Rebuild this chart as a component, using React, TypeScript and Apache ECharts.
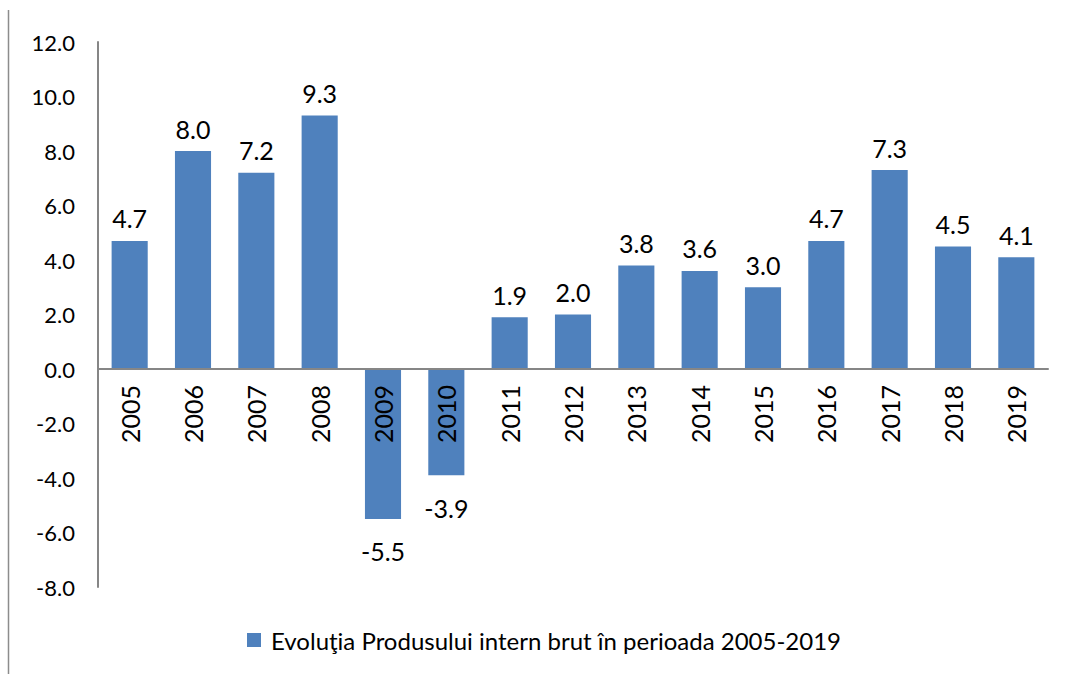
import React, { useEffect, useRef } from "react";
import * as echarts from "echarts";

const years = ["2005","2006","2007","2008","2009","2010","2011","2012","2013","2014","2015","2016","2017","2018","2019"];
const values = [4.7, 8.0, 7.2, 9.3, -5.5, -3.9, 1.9, 2.0, 3.8, 3.6, 3.0, 4.7, 7.3, 4.5, 4.1];
const seriesName = "Evoluţia Produsului intern brut în perioada 2005-2019";
const yMin = -8;
const yMax = 12;

const FONT = "Lato, 'Open Sans', sans-serif";

export default function App() {
  const ref = useRef<HTMLDivElement>(null);
  useEffect(() => {
    document.body.style.margin = "0";
    const gridTop = 42;
    const gridBottom = 87;
    const plotH = 674 - gridTop - gridBottom;
    const zeroOffset = -(plotH * (0 - yMin)) / (yMax - yMin);
    const chart = echarts.init(ref.current!, null, { renderer: "svg" });
    chart.setOption({
      animation: false,
      textStyle: { fontFamily: FONT },
      grid: { left: 98, right: 17, top: gridTop, bottom: gridBottom, containLabel: false },
      legend: {
        top: 623,
        left: 242,
        itemWidth: 14,
        itemHeight: 14,
        icon: "rect",
        itemGap: 10,
        textStyle: { fontSize: 24, color: "#000", fontFamily: FONT, padding: [0, 0, 0, 5] },
        data: [seriesName],
      },
      graphic: [
        {
          type: "line",
          shape: { x1: 8.5, y1: 10, x2: 8.5, y2: 674 },
          style: { stroke: "#8c8c8c", lineWidth: 1.5 },
        },
      ],
      xAxis: {
        type: "category",
        data: years,
        position: "bottom",
        offset: zeroOffset,
        z: 5,
        axisLine: { onZero: false, lineStyle: { color: "#868686", width: 2 } },
        axisTick: { show: false },
        axisLabel: { rotate: 90, fontSize: 25, color: "#000", margin: 16, fontFamily: FONT },
      },
      yAxis: {
        type: "value",
        min: yMin,
        max: yMax,
        interval: 2,
        splitLine: { show: false },
        axisLine: { show: true, lineStyle: { color: "#868686", width: 2 } },
        axisTick: { show: false },
        axisLabel: {
          fontSize: 22,
          color: "#000",
          margin: 23,
          fontFamily: FONT,
          formatter: (v: number) => v.toFixed(1),
        },
      },
      series: [
        {
          name: seriesName,
          type: "bar",
          z: 2,
          barCategoryGap: "43%",
          itemStyle: { color: "#4F81BD" },
          label: {
            show: true,
            fontSize: 25,
            color: "#000",
            fontFamily: FONT,
            formatter: (p: any) => Number(p.value).toFixed(1),
          },
          data: values.map((v) => ({
            value: v,
            label: v < 0 ? { position: "bottom", distance: 20 } : { position: "top", distance: 10 },
          })),
        },
      ],
    });
    return () => chart.dispose();
  }, []);
  return <div ref={ref} style={{ width: 1065, height: 674 }} />;
}
